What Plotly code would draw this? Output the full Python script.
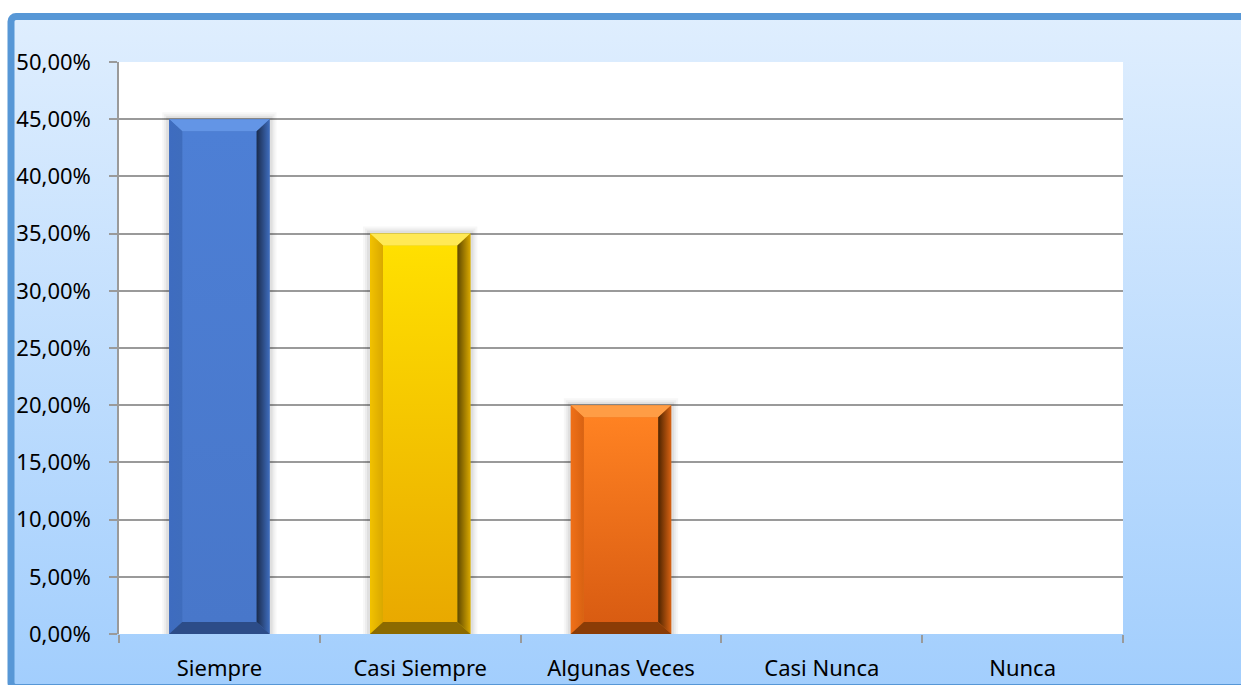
import base64
import plotly.graph_objects as go

categorias = ["Siempre", "Casi Siempre", "Algunas Veces", "Casi Nunca", "Nunca"]
porcentajes = [45.0, 35.0, 20.0, 0.0, 0.0]
y_ticks = [0, 5, 10, 15, 20, 25, 30, 35, 40, 45, 50]
y_tick_text = [f"{v:.2f}".replace(".", ",") + "%" for v in y_ticks]

# colores por barra: cara (arriba, abajo), bisel superior, izquierdo, derecho (interior, exterior), inferior
colores = [
    dict(top="#4D7FD5", bot="#4877CA", bt="#6395E6", bl="#3E6CC0", bri="#1A2B4C", bro="#3F6DBD", bb="#2C4C88"),
    dict(top="#FFE000", bot="#E9A900", bt="#FFE955", bl="#F2C200", bri="#5E4700", bro="#D9A800", bb="#8C6A00"),
    dict(top="#FF8222", bot="#D95C12", bt="#FF9D45", bl="#F07018", bri="#4E2400", bro="#D86212", bb="#8A3C06"),
]

W, H = 1241, 685
L, R, T, B = 119, 118, 62, 51
pw, ph = W - L - R, H - T - B

y_max = 50
bar_w = 0.5
px_x = 1 / (pw / 5)         # un pixel en unidades x
px_y = y_max / ph           # un pixel en unidades y
bx = 13 * px_x              # bisel horizontal
by = 12 * px_y              # bisel vertical

x = list(range(len(categorias)))

fig = go.Figure()
fig.add_trace(go.Bar(
    x=x, y=porcentajes, width=bar_w,
    marker=dict(color=[c["top"] for c in colores] + ["#000", "#000"], line=dict(width=0)),
    hovertemplate="%{y:.2f}%<extra></extra>",
))


def poly(xs, ys, color=None, grad=None):
    kw = dict(x=xs + [xs[0]], y=ys + [ys[0]], mode="lines", fill="toself",
              line=dict(width=0), hoverinfo="skip", showlegend=False)
    if grad:
        kw["fillgradient"] = grad
        kw["fillcolor"] = None
    else:
        kw["fillcolor"] = color
    fig.add_trace(go.Scatter(**kw))


for i, (xc, h) in enumerate(zip(x, porcentajes)):
    if h <= 0:
        continue
    c = colores[i]
    x0, x1 = xc - bar_w / 2, xc + bar_w / 2
    # sombra suave
    for d, a in [(7, 0.03), (5, 0.04), (3, 0.06)]:
        poly([x0 - d * px_x, x1 + d * px_x, x1 + d * px_x, x0 - d * px_x],
             [0, 0, h + d * px_y, h + d * px_y], color=f"rgba(0,0,0,{a})")
    # cara
    poly([x0 + bx, x1 - bx, x1 - bx, x0 + bx], [by, by, h - by, h - by],
         grad=dict(type="vertical", colorscale=[[0, c["bot"]], [1, c["top"]]]))
    # biseles
    poly([x0, x1, x1 - bx, x0 + bx], [h, h, h - by, h - by], color=c["bt"])
    poly([x0, x0 + bx, x0 + bx, x0], [0, by, h - by, h],
         grad=dict(type="horizontal", colorscale=[[0, c["bl"]], [1, c["bro"]]]))
    poly([x1, x1 - bx, x1 - bx, x1], [0, by, h - by, h],
         grad=dict(type="horizontal", colorscale=[[0, c["bri"]], [1, c["bro"]]]))
    poly([x0, x1, x1 - bx, x0 + bx], [0, 0, by, by], color=c["bb"])

svg = f"""<svg xmlns='http://www.w3.org/2000/svg' width='{W}' height='{H}'>
<defs><linearGradient id='g' x1='0' y1='0' x2='0' y2='1'>
<stop offset='0' stop-color='#DFEEFE'/><stop offset='1' stop-color='#A2CEFD'/></linearGradient></defs>
<rect width='{W}' height='{H}' fill='white'/>
<rect x='11' y='16.5' width='{W + 40}' height='{H - 14}' rx='5' fill='url(#g)' stroke='#5797D6' stroke-width='7'/>
<rect x='{L}' y='{T}' width='{pw}' height='{ph}' fill='white'/>
</svg>"""
src = "data:image/svg+xml;base64," + base64.b64encode(svg.encode()).decode()

fig.add_layout_image(
    source=src, xref="paper", yref="paper",
    x=-L / pw, y=1 + T / ph, sizex=W / pw, sizey=H / ph,
    xanchor="left", yanchor="top", sizing="stretch", layer="below",
)

fig.update_layout(
    width=W, height=H,
    margin=dict(l=L, r=R, t=T, b=B),
    paper_bgcolor="rgba(0,0,0,0)", plot_bgcolor="rgba(0,0,0,0)",
    showlegend=False, bargap=0.5,
    font=dict(family="Noto Sans", size=22, color="black"),
    xaxis=dict(
        range=[-0.5, 4.5], tickvals=x, ticktext=categorias, automargin=False,
        ticks="outside", ticklen=8, tickcolor="rgba(0,0,0,0)", ticklabelstandoff=7,
        showgrid=False, zeroline=False, showline=False,
        minor=dict(tickvals=[-0.5, 0.5, 1.5, 2.5, 3.5, 4.5], ticks="outside",
                   ticklen=8, tickcolor="#9A9A9A", tickwidth=1.5, showgrid=False),
        fixedrange=True,
    ),
    yaxis=dict(
        range=[0, y_max], tickvals=y_ticks, ticktext=y_tick_text, automargin=False,
        ticks="outside", ticklen=8, tickcolor="#9A9A9A", tickwidth=1.5,
        ticklabelstandoff=14,
        showgrid=True, gridcolor="#9A9A9A", gridwidth=1.5,
        showline=True, linecolor="#9A9A9A", linewidth=1.5,
        zeroline=False, fixedrange=True,
    ),
)

fig.write_html("out.html", config={"displayModeBar": False},
               post_script="document.body.style.margin='0';document.body.style.overflow='hidden';")
